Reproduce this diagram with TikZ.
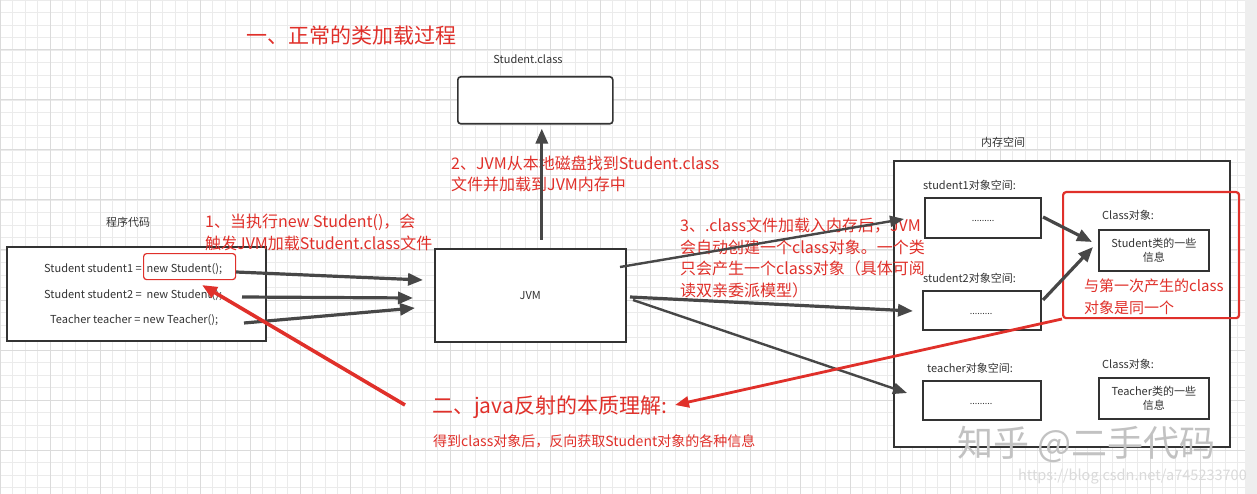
\documentclass[tikz,border=0pt]{standalone}
\usepackage{fontspec}
\setmainfont{Noto Sans CJK SC}
\usetikzlibrary{arrows.meta}
\definecolor{gridminor}{HTML}{EBEBEB}
\definecolor{gridmajor}{HTML}{DBDBDB}
\definecolor{ln}{HTML}{333333}
\definecolor{arr}{HTML}{474747}
\definecolor{rd}{HTML}{E0302A}
\definecolor{wm}{HTML}{C2C2C2}
\definecolor{wm2}{HTML}{DADADA}
\definecolor{strip}{HTML}{EEEEEE}
\tikzset{
  lbl/.style={font=\fontsize{11}{14}\selectfont, text=ln, inner sep=0pt},
  bx/.style={draw=ln, line width=1.6pt, fill=white, inner sep=0pt, anchor=north west},
  redtxt/.style={text=rd, font=\fontsize{16}{21.5}\selectfont, align=left, inner sep=0pt, anchor=base west},
  bigred/.style={text=rd, font=\fontsize{21}{25}\selectfont, inner sep=0pt, anchor=base west},
  darr/.style={draw=arr, line width=3.2pt, -{Triangle[length=15pt,width=12pt]}},
  tarr/.style={draw=arr, line width=2.4pt, -{Triangle[length=14pt,width=11pt]}},
  rarr/.style={draw=rd, line width=3.6pt, -{Triangle[length=15pt,width=12pt]}},
  dots/.style={font=\fontsize{9}{10}\selectfont, text=ln, inner sep=0pt, anchor=base},
}
\begin{document}
\begin{tikzpicture}[x=1pt,y=-1pt]
\useasboundingbox (0,0) rectangle (1257,494);
\fill[white] (0,0) rectangle (1257,494);
% grid
\foreach \i in {0,...,100} {
  \draw[gridminor, line width=0.9pt] (\i*12.5,0) -- (\i*12.5,494);
}
\foreach \j in {0,...,40} {
  \draw[gridminor, line width=0.9pt] (0,\j*12.5) -- (1257,\j*12.5);
}
\foreach \i in {0,...,25} {
  \draw[gridmajor, line width=1pt] (\i*50,0) -- (\i*50,494);
}
\foreach \j in {0,...,10} {
  \draw[gridmajor, line width=1pt] (0,\j*50) -- (1257,\j*50);
}
\fill[strip] (1245,0) rectangle (1257,494);

% title
\node[bigred] (title1) at (246,44) {一、正常的类加载过程};

% Student.class
\node[lbl, anchor=base] (sclslbl) at (528,64) {Student.class};
\node[bx, rounded corners=3pt, minimum width=155pt, minimum height=47pt] (scls) at (457,76) {};

% program code
\node[lbl, anchor=base] (codelbl) at (128,226) {程序代码};
\node[bx, minimum width=259pt, minimum height=94pt] (code) at (6,246) {};
\node[lbl, anchor=base west] (line1) at (44,272) {Student student1 =\ \ new Student();};
\node[lbl, anchor=base west] (line2) at (44,298) {Student student2 =\ \ new Student();};
\node[lbl, anchor=base west] (line3) at (50,323) {Teacher teacher = new Teacher();};
\node[draw=rd, line width=1.2pt, rounded corners=3pt, minimum width=92pt, minimum height=26pt, inner sep=0pt, anchor=north west] (hl) at (143,253) {};

% JVM
\node[bx, minimum width=191pt, minimum height=93pt] (jvm) at (434,248) {};
\node[lbl] (jvmtxt) at (jvm.center) {JVM};

% memory
\node[lbl, anchor=base] (memlbl) at (1003,147) {内存空间};
\node[bx, minimum width=336pt, minimum height=286pt] (mem) at (893,160) {};

\node[lbl, anchor=base west] (s1lbl) at (923,190) {student1对象空间:};
\node[bx, minimum width=116pt, minimum height=40pt] (s1) at (924,197) {};
\node[dots] (d1) at (983,222) {.........};

\node[lbl, anchor=base west] (s2lbl) at (923,282) {student2对象空间:};
\node[bx, minimum width=118pt, minimum height=39pt] (s2) at (922,290) {};
\node[dots] (d2) at (981,314) {.........};

\node[lbl, anchor=base west] (tlbl) at (927,372) {teacher对象空间:};
\node[bx, minimum width=118pt, minimum height=39pt] (tb) at (922,380) {};
\node[dots] (d3) at (981,404) {.........};

\node[lbl, anchor=base west] (c1lbl) at (1102,220) {Class对象:};
\node[bx, minimum width=110pt, minimum height=41pt] (sinfo) at (1098,229) {};
\node[lbl, align=center] (sinfotxt) at (sinfo.center) {Student类的一些\\信息};

\node[lbl, anchor=base west] (c2lbl) at (1102,368) {Class对象:};
\node[bx, minimum width=110pt, minimum height=41pt] (tinfo) at (1098,377) {};
\node[lbl, align=center] (tinfotxt) at (tinfo.center) {Teacher类的一些\\信息};

\node[draw=rd, line width=2.2pt, rounded corners=3pt, minimum width=176pt, minimum height=126pt, inner sep=0pt, anchor=north west] (redbox) at (1062,191) {};

% red texts (base = baseline of the last line)
\node[redtxt] (r1) at (205,249) {1、当执行new Student()，会\\触发JVM加载Student.class文件};
\node[redtxt] (r2) at (451,191) {2、JVM从本地磁盘找到Student.class\\文件并加载到JVM内存中};
\node[redtxt] (r3) at (680,296) {3、.class文件加载入内存后，JVM\\会自动创建一个class对象。一个类\\只会产生一个class对象（具体可阅\\读双亲委派模型）};
\node[redtxt, font=\fontsize{15}{22}\selectfont] (r4) at (1084,313) {与第一次产生的class\\对象是同一个};
\node[bigred] (title2) at (432,413) {二、java反射的本质理解:};
\node[text=rd, font=\fontsize{14}{16}\selectfont, inner sep=0pt, anchor=base west] (sub2) at (433,446) {得到class对象后，反向获取Student对象的各种信息};

% watermark
\node[text=wm, font=\fontsize{36}{40}\selectfont, inner sep=0pt, anchor=base west] (wm1) at (957,456) {知乎 @二手代码};
\node[text=wm2, font=\fontsize{14.5}{16}\selectfont, inner sep=0pt, anchor=base east] (wm2) at (1247,480) {https://blog.csdn.net/a745233700};

% connector endpoints
\coordinate (a1s) at (236,272); \coordinate (a1e) at (423,280);
\coordinate (a2s) at (242,297); \coordinate (a2e) at (413,298);
\coordinate (a3s) at (244,323); \coordinate (a3e) at (415,308);
\coordinate (a4s) at (620,267); \coordinate (a4e) at (904,219);
\coordinate (a5s) at (630,297); \coordinate (a5e) at (913,311);
\coordinate (a6s) at (633,300); \coordinate (a6e) at (907,393);
\coordinate (a7s) at (1043,217); \coordinate (a7e) at (1092,242);
\coordinate (a8s) at (1043,300); \coordinate (a8e) at (1093,247);
\coordinate (r1s) at (405,405); \coordinate (r1e) at (202,285);
\coordinate (r2s) at (1062,319); \coordinate (r2e) at (675,405);

\draw[darr] ([xshift=11.5pt,yshift=8pt]jvm.north) -- ([xshift=6.5pt,yshift=-4pt]scls.south);
\draw[darr] (a1s) -- (a1e);
\draw[darr] (a2s) -- (a2e);
\draw[darr] (a3s) -- (a3e);
\draw[tarr] (a4s) -- (a4e);
\draw[darr] (a5s) -- (a5e);
\draw[tarr] (a6s) -- (a6e);
\draw[darr] (a7s) -- (a7e);
\draw[darr] (a8s) -- (a8e);
\draw[rarr] (r1s) -- (r1e);
\draw[draw=rd, line width=2.8pt, -{Triangle[length=14pt,width=11pt]}] (r2s) -- (r2e);
\end{tikzpicture}
\end{document}
